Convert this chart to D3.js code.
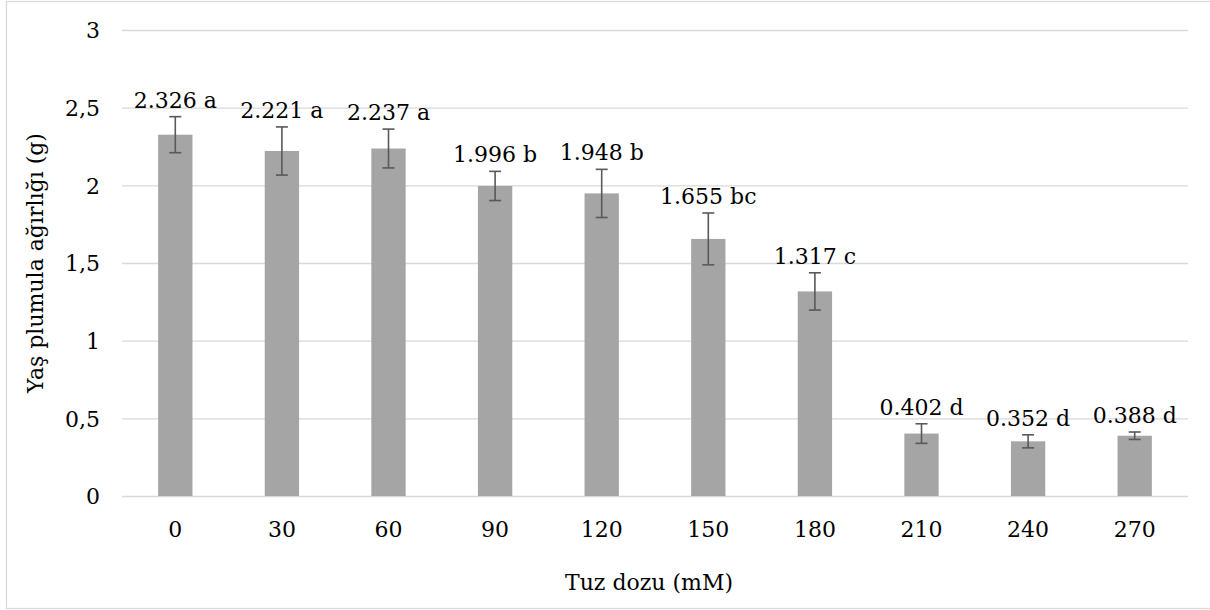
<!DOCTYPE html>
<html>
<head>
<meta charset="utf-8">
<script src="https://cdn.jsdelivr.net/npm/d3@7"></script>
<style>
  html, body { margin: 0; padding: 0; background: #fff; }
  svg { display: block; }
  text { font-family: "DejaVu Serif", "Liberation Serif", serif; fill: #000; }
</style>
</head>
<body>
<svg id="chart" width="1210" height="610"></svg>
<script>
// Salt dose treatments (mM)
const doses = ["0", "30", "60", "90", "120", "150", "180", "210", "240", "270"];
// Mean fresh plumule weight (g)
const means = [2.326, 2.221, 2.237, 1.996, 1.948, 1.655, 1.317, 0.402, 0.352, 0.388];
// Standard error of each mean (g)
const errors = [0.116, 0.155, 0.125, 0.094, 0.155, 0.167, 0.120, 0.063, 0.042, 0.024];
// Significance groups
const groups = ["a", "a", "a", "b", "b", "bc", "c", "d", "d", "d"];
// Y axis ticks
const yTicks = [0, 0.5, 1, 1.5, 2, 2.5, 3];

const rows = doses.map((d, i) => ({ dose: d, mean: means[i], err: errors[i], grp: groups[i] }));

const svg = d3.select("#chart");
const W = 1210, H = 610;
const plot = { left: 122, right: 1188, top: 30, bottom: 496 };
const fontSize = 22;
const fontFamily = "'DejaVu Serif', 'Liberation Serif', serif";

// outer chart frame
svg.append("rect")
  .attr("x", 6.5).attr("y", 1.5)
  .attr("width", W + 10).attr("height", 607)
  .attr("fill", "#fff").attr("stroke", "#d9d9d9").attr("stroke-width", 1.3);

const x = d3.scaleBand()
  .domain(doses)
  .range([plot.left, plot.right])
  .paddingInner(0.678)
  .paddingOuter(0.339);

const y = d3.scaleLinear().domain([0, 3]).range([plot.bottom, plot.top]);

// horizontal gridlines (the 0 line doubles as the category axis)
const yAxis = d3.axisLeft(y)
  .tickValues(yTicks)
  .tickSize(-(plot.right - plot.left))
  .tickPadding(22)
  .tickFormat(v => String(v).replace(".", ","));

const gy = svg.append("g")
  .attr("transform", `translate(${plot.left},0)`)
  .call(yAxis);
gy.attr("font-family", fontFamily);
gy.select(".domain").remove();
gy.selectAll(".tick line").attr("stroke", "#d9d9d9").attr("stroke-width", 1.4);
gy.selectAll(".tick text")
  .attr("font-size", fontSize)
  .attr("fill", "#000")
  .attr("dy", "0.36em");

// category labels
const xAxis = d3.axisBottom(x).tickSize(0).tickPadding(0);
const gx = svg.append("g")
  .attr("transform", `translate(0,${plot.bottom})`)
  .call(xAxis);
gx.attr("font-family", fontFamily);
gx.select(".domain").remove();
gx.selectAll(".tick text")
  .attr("font-size", fontSize)
  .attr("fill", "#000")
  .attr("dy", null)
  .attr("y", 41);

// bars
svg.append("g").selectAll("rect")
  .data(rows)
  .join("rect")
  .attr("x", d => x(d.dose))
  .attr("width", x.bandwidth())
  .attr("y", d => y(d.mean))
  .attr("height", d => y(0) - y(d.mean))
  .attr("fill", "#a5a5a5");

// error bars
const cap = 6;
const eb = svg.append("g")
  .attr("stroke", "#595959")
  .attr("stroke-width", 1.6)
  .attr("fill", "none");
rows.forEach(d => {
  const cx = x(d.dose) + x.bandwidth() / 2;
  const y1 = y(d.mean + d.err), y2 = y(d.mean - d.err);
  eb.append("line").attr("x1", cx).attr("x2", cx).attr("y1", y1).attr("y2", y2);
  eb.append("line").attr("x1", cx - cap).attr("x2", cx + cap).attr("y1", y1).attr("y2", y1);
  eb.append("line").attr("x1", cx - cap).attr("x2", cx + cap).attr("y1", y2).attr("y2", y2);
});

// value labels with significance letters
svg.append("g").selectAll("text")
  .data(rows)
  .join("text")
  .attr("x", d => x(d.dose) + x.bandwidth() / 2)
  .attr("y", d => y(d.mean + d.err) - 9)
  .attr("text-anchor", "middle")
  .attr("font-size", fontSize)
  .text(d => d3.format(".3f")(d.mean) + " " + d.grp);

// axis titles
svg.append("text")
  .attr("x", (plot.left + plot.right) / 2 - 6)
  .attr("y", 590)
  .attr("text-anchor", "middle")
  .attr("font-size", fontSize)
  .text("Tuz dozu (mM)");

svg.append("text")
  .attr("transform", `translate(43,${(plot.top + plot.bottom) / 2}) rotate(-90)`)
  .attr("text-anchor", "middle")
  .attr("font-size", fontSize)
  .text("Yaş plumula ağırlığı (g)");
</script>
</body>
</html>
